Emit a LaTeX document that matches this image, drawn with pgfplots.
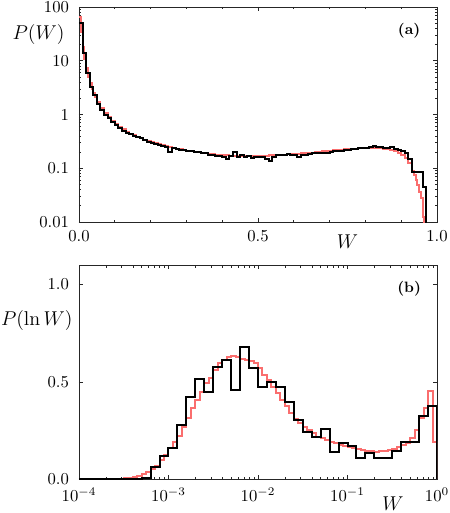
\documentclass[border=0pt]{standalone}
\usepackage{pgfplots}
\pgfplotsset{compat=1.18}
\usepackage{pgfplotstable}
\definecolor{myred}{RGB}{250,110,110}

\pgfplotstableread{
x y
0.00 50
0.01 14
0.02 5.8
0.03 3.3
0.04 2.3
0.05 1.6
0.06 1.2
0.07 0.98
0.08 0.85
0.09 0.72
0.10 0.64
0.11 0.56
0.12 0.50
0.13 0.46
0.14 0.43
0.15 0.40
0.16 0.38
0.17 0.36
0.18 0.34
0.19 0.31
0.20 0.29
0.21 0.28
0.22 0.27
0.23 0.26
0.24 0.25
0.25 0.20
0.26 0.24
0.27 0.23
0.28 0.22
0.29 0.22
0.30 0.21
0.31 0.21
0.32 0.20
0.33 0.20
0.34 0.19
0.35 0.19
0.36 0.18
0.37 0.18
0.38 0.17
0.39 0.17
0.40 0.165
0.41 0.15
0.42 0.17
0.43 0.20
0.44 0.16
0.45 0.18
0.46 0.165
0.47 0.17
0.48 0.155
0.49 0.165
0.50 0.16
0.51 0.165
0.52 0.15
0.53 0.138
0.54 0.16
0.55 0.175
0.56 0.18
0.57 0.18
0.58 0.185
0.59 0.18
0.60 0.175
0.61 0.165
0.62 0.175
0.63 0.18
0.64 0.185
0.65 0.19
0.66 0.19
0.67 0.19
0.68 0.195
0.69 0.195
0.70 0.20
0.71 0.205
0.72 0.21
0.73 0.21
0.74 0.215
0.75 0.22
0.76 0.225
0.77 0.23
0.78 0.235
0.79 0.24
0.80 0.24
0.81 0.245
0.82 0.255
0.83 0.25
0.84 0.245
0.85 0.24
0.86 0.235
0.87 0.245
0.88 0.225
0.89 0.22
0.90 0.205
0.91 0.19
0.92 0.15
0.93 0.087
0.94 0.087
0.95 0.087
0.96 0.045
0.97 0.045
0.97 0.0001
}\topblack

\pgfplotstableread{
x y
0.000 65
0.005 35
0.010 18
0.015 11
0.020 7.2
0.025 5.0
0.030 3.8
0.035 3.0
0.040 2.5
0.045 2.1
0.05 1.7
0.06 1.3
0.07 1.05
0.08 0.88
0.09 0.76
0.10 0.66
0.11 0.59
0.12 0.53
0.13 0.48
0.14 0.44
0.15 0.41
0.16 0.385
0.17 0.36
0.18 0.34
0.19 0.32
0.20 0.305
0.21 0.29
0.22 0.28
0.23 0.268
0.24 0.258
0.25 0.248
0.26 0.24
0.27 0.232
0.28 0.225
0.29 0.219
0.30 0.213
0.31 0.208
0.32 0.203
0.33 0.198
0.34 0.194
0.35 0.19
0.36 0.186
0.37 0.183
0.38 0.18
0.39 0.177
0.40 0.175
0.41 0.173
0.42 0.172
0.43 0.171
0.44 0.170
0.45 0.169
0.46 0.169
0.47 0.169
0.48 0.169
0.49 0.17
0.50 0.17
0.51 0.171
0.52 0.172
0.53 0.173
0.54 0.174
0.55 0.176
0.56 0.177
0.57 0.179
0.58 0.181
0.59 0.183
0.60 0.185
0.61 0.187
0.62 0.189
0.63 0.191
0.64 0.194
0.65 0.196
0.66 0.199
0.67 0.202
0.68 0.205
0.69 0.208
0.70 0.211
0.71 0.214
0.72 0.217
0.73 0.221
0.74 0.224
0.75 0.227
0.76 0.23
0.77 0.233
0.78 0.236
0.79 0.238
0.80 0.24
0.81 0.241
0.82 0.241
0.83 0.24
0.84 0.237
0.85 0.232
0.86 0.226
0.87 0.218
0.88 0.208
0.89 0.196
0.90 0.18
0.91 0.155
0.92 0.125
0.93 0.09
0.935 0.075
0.94 0.06
0.945 0.049
0.95 0.036
0.955 0.028
0.96 0.0126
0.965 0.0126
0.965 0.0001
}\topred

\pgfplotstableread{
lx y
-4.0 0
-3.3 0.005
-3.2 0.062
-3.1 0.12
-3.0 0.159
-2.9 0.278
-2.8 0.424
-2.7 0.513
-2.6 0.449
-2.5 0.577
-2.4 0.615
-2.3 0.46
-2.2 0.68
-2.1 0.569
-2.0 0.475
-1.9 0.497
-1.8 0.475
-1.7 0.398
-1.6 0.304
-1.5 0.244
-1.4 0.215
-1.3 0.258
-1.2 0.142
-1.1 0.185
-1.0 0.171
-0.9 0.108
-0.8 0.136
-0.7 0.108
-0.6 0.108
-0.5 0.145
-0.4 0.193
-0.3 0.193
-0.2 0.326
-0.1 0.376
0.0 0.376
0.0 0
}\botblack

\pgfplotstableread{
lx y
-4.0 0
-3.65 0.002
-3.6 0.003
-3.55 0.004
-3.5 0.006
-3.45 0.008
-3.4 0.012
-3.35 0.017
-3.3 0.025
-3.25 0.04
-3.2 0.052
-3.15 0.068
-3.1 0.099
-3.05 0.125
-3.0 0.159
-2.95 0.19
-2.9 0.222
-2.85 0.27
-2.8 0.313
-2.75 0.364
-2.7 0.407
-2.65 0.449
-2.6 0.492
-2.55 0.518
-2.5 0.56
-2.45 0.595
-2.4 0.612
-2.35 0.626
-2.3 0.632
-2.25 0.627
-2.2 0.62
-2.15 0.615
-2.1 0.608
-2.05 0.595
-2.0 0.569
-1.95 0.535
-1.9 0.509
-1.85 0.475
-1.8 0.441
-1.75 0.407
-1.7 0.376
-1.65 0.342
-1.6 0.308
-1.55 0.287
-1.5 0.27
-1.45 0.253
-1.4 0.236
-1.35 0.218
-1.3 0.21
-1.25 0.202
-1.2 0.193
-1.15 0.185
-1.1 0.178
-1.05 0.172
-1.0 0.164
-0.95 0.16
-0.9 0.154
-0.85 0.15
-0.8 0.147
-0.75 0.144
-0.7 0.142
-0.65 0.143
-0.6 0.145
-0.55 0.15
-0.5 0.154
-0.45 0.164
-0.4 0.175
-0.35 0.185
-0.3 0.21
-0.25 0.253
-0.2 0.313
-0.15 0.364
-0.1 0.454
-0.05 0.193
0.0 0.193
0.0 0
}\botred

\begin{document}
\begin{tikzpicture}
\pgfplotsset{
  every axis/.append style={
    scale only axis,
    width=214.8pt,
    axis line style={black!85},
    every tick/.style={black!85},
    major tick length=2.6pt,
    minor tick length=1.5pt,
    tick align=inside,
    clip mode=individual,
  },
  yticklabel style={xshift=-2.5pt},
  xticklabel style={yshift=-1.5pt},
}
\begin{axis}[
  at={(0pt,0pt)}, anchor=south west,
  height=129pt,
  xmin=0, xmax=1,
  ymode=log, ymin=0.01, ymax=100,
  xtick={0,0.5,1}, xticklabels={0.0,0.5,1.0},
  minor xtick={0.1,0.2,0.3,0.4,0.6,0.7,0.8,0.9},
  ytick={0.01,0.1,1,10,100},
  yticklabels={0.01,0.1,1,10,100},
]
\addplot[myred, line width=1.2pt, const plot] table[x=x,y=y] {\topred};
\addplot[black, line width=1.2pt, const plot] table[x=x,y=y] {\topblack};
\node at (axis description cs:-0.113,0.874) {\large $P(W)$};
\node at (axis description cs:0.75,0) [yshift=-12pt] {\large $W$};
\node at (axis description cs:0.922,0.888) {\small\bfseries (a)};
\end{axis}

\begin{axis}[
  at={(0pt,-25.8pt)}, anchor=north west,
  height=128.6pt,
  xmode=log, xmin=1e-4, xmax=1,
  ymin=0, ymax=1.1,
  ytick={0,0.5,1},
  yticklabel style={/pgf/number format/fixed,/pgf/number format/fixed zerofill,/pgf/number format/precision=1},
]
\addplot[myred, line width=1.2pt, const plot] table[x expr={10^(\thisrow{lx})},y=y] {\botred};
\addplot[black, line width=1.2pt, const plot] table[x expr={10^(\thisrow{lx})},y=y] {\botblack};
\node at (axis description cs:-0.118,0.739) {\large $P(\ln W)$};
\node at (axis description cs:0.877,0) [yshift=-14.5pt] {\large $W$};
\node at (axis description cs:0.922,0.888) {\small\bfseries (b)};
\end{axis}
\pgfresetboundingbox
\path[use as bounding box] (-47.4pt,-174.6pt) rectangle (222.6pt,133.2pt);
\end{tikzpicture}
\end{document}
